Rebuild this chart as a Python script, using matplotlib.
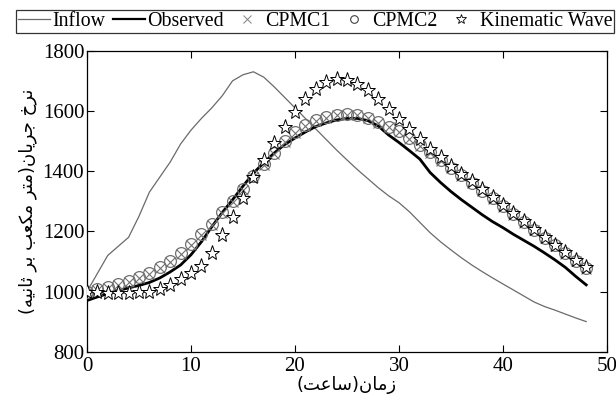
import matplotlib
matplotlib.use("Agg")
import matplotlib.pyplot as plt
from matplotlib.lines import Line2D

# ---------------- data ----------------
hours = list(range(0, 49))

inflow = [1000, 1060, 1120, 1150, 1180, 1250, 1330, 1380, 1430, 1490,
          1536, 1575, 1610, 1650, 1700, 1720, 1730, 1712, 1680, 1645,
          1610, 1575, 1540, 1505, 1470, 1437, 1405, 1375, 1345, 1318,
          1295, 1265, 1230, 1195, 1165, 1138, 1112, 1088, 1066, 1045,
          1025, 1005, 985, 965, 950, 938, 925, 912, 900]

observed = [970, 982, 993, 1003, 1012, 1020, 1030, 1045, 1065, 1088,
            1122, 1165, 1215, 1262, 1305, 1350, 1393, 1428, 1460, 1488,
            1510, 1530, 1548, 1560, 1570, 1575, 1575, 1568, 1550, 1520,
            1495, 1468, 1440, 1395, 1362, 1332, 1305, 1280, 1255, 1232,
            1212, 1190, 1170, 1150, 1128, 1105, 1080, 1050, 1022]

cpmc1 = [998, 1005, 1012, 1022, 1033, 1045, 1059, 1077, 1097, 1125,
         1155, 1187, 1222, 1260, 1298, 1338, 1380, 1420, 1458, 1497,
         1527, 1551, 1568, 1578, 1585, 1588, 1585, 1576, 1561, 1546,
         1530, 1508, 1485, 1460, 1435, 1409, 1384, 1359, 1333, 1307,
         1281, 1255, 1229, 1203, 1177, 1151, 1126, 1101, 1075]

cpmc2 = [1000, 1008, 1015, 1025, 1036, 1048, 1062, 1080, 1100, 1128,
         1158, 1190, 1225, 1263, 1300, 1340, 1383, 1422, 1460, 1500,
         1530, 1553, 1570, 1580, 1587, 1590, 1587, 1578, 1562, 1548,
         1532, 1510, 1487, 1462, 1437, 1411, 1386, 1361, 1335, 1309,
         1283, 1257, 1231, 1205, 1179, 1153, 1128, 1103, 1077]

kinematic = [1000, 998, 996, 995, 995, 997, 1000, 1008, 1020, 1040,
             1060, 1085, 1128, 1188, 1248, 1312, 1380, 1438, 1492, 1545,
             1598, 1640, 1672, 1695, 1705, 1702, 1690, 1668, 1640, 1606,
             1572, 1540, 1505, 1475, 1447, 1418, 1392, 1366, 1340, 1313,
             1287, 1261, 1234, 1208, 1182, 1156, 1130, 1105, 1080]

legend_labels = ["Inflow", "Observed", "CPMC1", "CPMC2", "Kinematic Wave"]
x_label = "زمان(ساعت)"
y_label = "نرخ جریان(متر مکعب بر ثانیه)"
x_ticks = [0, 10, 20, 30, 40, 50]
y_ticks = [800, 1000, 1200, 1400, 1600, 1800]


# ------------- Arabic-script shaping (matplotlib has no shaping) -------------
FORMS = {
    # char: (isolated, final, initial, medial) ; None for initial/medial = right-joining
    "ا": ("\uFE8D", "\uFE8E", None, None),
    "ب": ("\uFE8F", "\uFE90", "\uFE91", "\uFE92"),
    "ت": ("\uFE95", "\uFE96", "\uFE97", "\uFE98"),
    "ث": ("\uFE99", "\uFE9A", "\uFE9B", "\uFE9C"),
    "ج": ("\uFE9D", "\uFE9E", "\uFE9F", "\uFEA0"),
    "خ": ("\uFEA5", "\uFEA6", "\uFEA7", "\uFEA8"),
    "ر": ("\uFEAD", "\uFEAE", None, None),
    "ز": ("\uFEAF", "\uFEB0", None, None),
    "س": ("\uFEB1", "\uFEB2", "\uFEB3", "\uFEB4"),
    "ع": ("\uFEC9", "\uFECA", "\uFECB", "\uFECC"),
    "م": ("\uFEE1", "\uFEE2", "\uFEE3", "\uFEE4"),
    "ن": ("\uFEE5", "\uFEE6", "\uFEE7", "\uFEE8"),
    "ه": ("\uFEE9", "\uFEEA", "\uFEEB", "\uFEEC"),
    "ی": ("\uFBFC", "\uFBFD", "\uFBFE", "\uFBFF"),
    "ک": ("\uFB8E", "\uFB8F", "\uFB90", "\uFB91"),
}


def shape_rtl(text):
    out = []
    n = len(text)
    for i, ch in enumerate(text):
        if ch not in FORMS:
            out.append(ch)
            continue
        iso, fin, ini, med = FORMS[ch]
        prev = text[i - 1] if i > 0 else ""
        nxt = text[i + 1] if i + 1 < n else ""
        joins_prev = prev in FORMS and FORMS[prev][2] is not None
        joins_next = ini is not None and nxt in FORMS
        if joins_prev and joins_next:
            out.append(med)
        elif joins_prev:
            out.append(fin)
        elif joins_next:
            out.append(ini)
        else:
            out.append(iso)
    vis = "".join(reversed(out))
    swap = {"(": ")", ")": "("}
    return "".join(swap.get(c, c) for c in vis)


# ---------------- plot ----------------
plt.rcParams["font.family"] = ["Liberation Serif", "DejaVu Sans"]

fig = plt.figure(figsize=(6.16, 4.05), dpi=100)
ax = fig.add_axes([0.1412, 0.1316, 0.8442, 0.7432])

ax.plot(hours, inflow, color="#6a6a6a", lw=0.9, zorder=2)
ax.plot(hours, observed, color="black", lw=2.0, zorder=3)
ax.plot(hours, cpmc1, ls="none", marker="x", ms=6.5, mew=0.8,
        color="#707070", zorder=4)
ax.plot(hours, cpmc2, ls="none", marker="o", ms=8.5, mew=0.9,
        mfc="none", mec="#707070", zorder=4)
ax.plot(hours, kinematic, ls="none", marker="*", ms=11, mew=0.7,
        mfc="white", mec="black", zorder=5)

ax.set_xlim(0, 50)
ax.set_ylim(800, 1800)
ax.set_xticks(x_ticks)
ax.set_yticks(y_ticks)
ax.tick_params(direction="in", top=True, right=True, labelsize=15,
               length=5, width=0.8)
ax.tick_params(axis="x", pad=4)
ax.tick_params(axis="y", pad=2)
for s in ax.spines.values():
    s.set_linewidth(0.9)

ax.set_xlabel(shape_rtl(x_label), family=["DejaVu Sans"], fontsize=13,
              labelpad=0)
ax.set_ylabel(shape_rtl(y_label), family=["DejaVu Sans"], fontsize=13,
              labelpad=4)

handles = [
    Line2D([], [], color="#6a6a6a", lw=0.9),
    Line2D([], [], color="black", lw=1.6),
    Line2D([], [], ls="none", marker="x", ms=5.5, mew=0.7, color="#808080"),
    Line2D([], [], ls="none", marker="o", ms=5.5, mew=0.8, mfc="none",
           mec="#404040"),
    Line2D([], [], ls="none", marker="*", ms=7.5, mew=0.6, mfc="white",
           mec="black"),
]
leg = fig.legend(handles, legend_labels, loc="lower left",
                 bbox_to_anchor=(0.026, 0.9185, 0.971, 0.059),
                 mode="expand", ncol=5, fontsize=14.3,
                 frameon=True, fancybox=False, edgecolor="black",
                 handlelength=1.6, handletextpad=0.12, columnspacing=0.2,
                 borderpad=0.1, borderaxespad=0)
leg.get_frame().set_linewidth(0.9)

fig.savefig("out.png", dpi=100)
